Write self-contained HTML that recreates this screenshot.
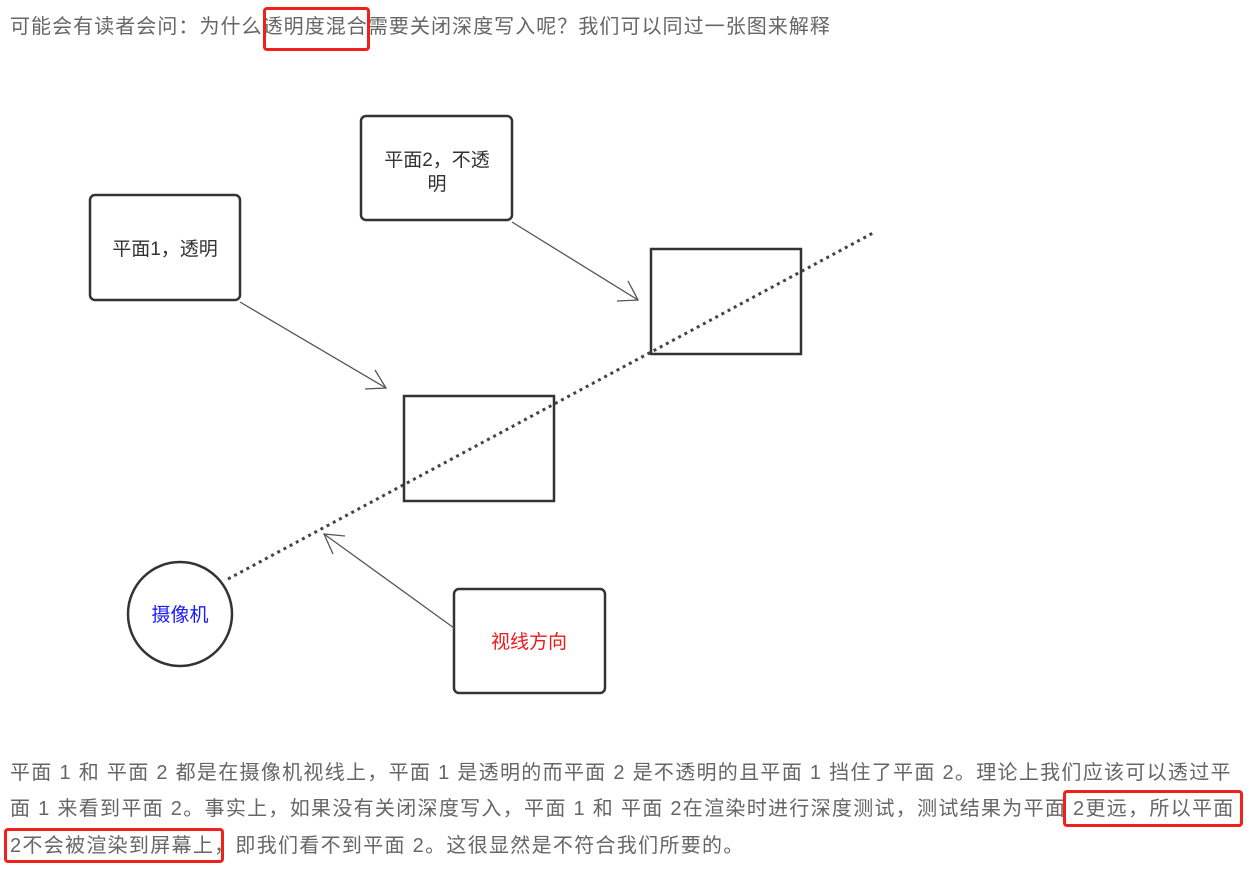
<!DOCTYPE html>
<html><head><meta charset="utf-8"><style>
body{margin:0;width:1259px;height:875px;background:#fff;position:relative;overflow:hidden;font-family:"Liberation Sans","Noto Sans CJK SC",sans-serif;}
.t{position:absolute;white-space:nowrap;color:#666;font-size:20px;line-height:24px;letter-spacing:1.3px;}
.hl{position:absolute;border:3px solid #f0201a;border-radius:4px;}
</style></head><body>
<div class="t" style="left:10px;top:15px;letter-spacing:1.05px;">可能会有读者会问：为什么透明度混合需要关闭深度写入呢？我们可以同过一张图来解释</div>
<div class="hl" style="left:263px;top:7px;width:101px;height:38px;"></div>

<svg style="position:absolute;left:0;top:0" width="1259" height="875">
<g fill="#fff" stroke="#333" stroke-width="2.5">
<rect x="90" y="195" width="150" height="105" rx="5"/>
<rect x="361" y="116" width="151" height="104" rx="5"/>
<rect x="454" y="589" width="151" height="104" rx="5"/>
<rect x="651" y="249" width="150" height="105"/>
<rect x="404" y="396" width="150" height="105"/>
<circle cx="180" cy="614" r="52"/>
</g>
<line x1="228" y1="579" x2="873" y2="233" stroke="#444" stroke-width="3" stroke-dasharray="3,4"/>
<g stroke="#555" stroke-width="1.3" fill="none">
<line x1="240" y1="302" x2="386" y2="388"/><polyline points="375,370 386,388 365,389"/>
<line x1="512" y1="222" x2="638" y2="300"/><polyline points="628,281 638,300 617,301"/>
<line x1="454" y1="628" x2="324" y2="534"/><polyline points="345,536 324,534 333,554"/>
</g>
<g font-family="Liberation Sans,Noto Sans CJK SC,sans-serif" font-size="19" text-anchor="middle" fill="#333">
<text x="165" y="255">平面1，透明</text>
<text x="437" y="166">平面2，不透</text>
<text x="437" y="190">明</text>
<text x="180" y="621" fill="#1a1aff">摄像机</text>
<text x="529" y="648" fill="#f01818">视线方向</text>
</g>
</svg>

<div class="t" style="left:10px;top:761px;">平面 1 和 平面 2 都是在摄像机视线上，平面 1 是透明的而平面 2 是不透明的且平面 1 挡住了平面 2。理论上我们应该可以透过平</div>
<div class="t" style="left:10px;top:797px;">面 1 来看到平面 2。事实上，如果没有关闭深度写入，平面 1 和 平面 2在渲染时进行深度测试，测试结果为平面 2更远，所以平面</div>
<div class="t" style="left:10px;top:834px;">2不会被渲染到屏幕上，即我们看不到平面 2。这很显然是不符合我们所要的。</div>
<div class="hl" style="left:1063px;top:790px;width:174px;height:31px;"></div>
<div class="hl" style="left:4px;top:828px;width:214px;height:29px;"></div>
</body></html>
